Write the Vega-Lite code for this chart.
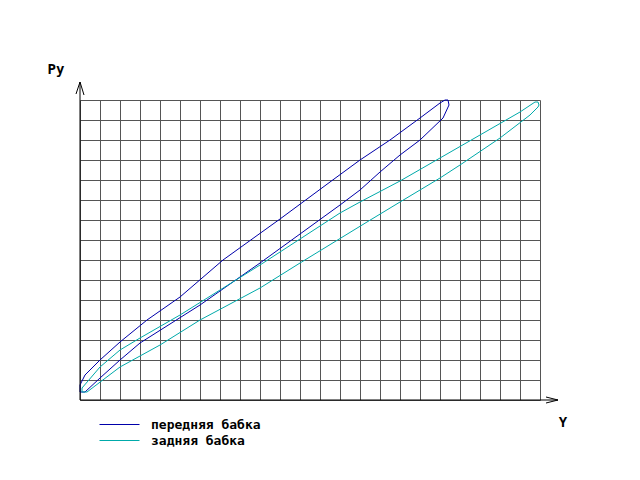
{
  "$schema": "https://vega.github.io/schema/vega-lite/v6.json",
  "width": 460,
  "height": 300,
  "autosize": {"type": "none"},
  "padding": {"left": 80, "top": 100, "right": 100, "bottom": 80},
  "background": "white",
  "config": {"view": {"stroke": null}},
  "layer": [
    {
      "data": {"values": [
        {"series": "передняя бабка", "ord": 1, "x": 0, "y": 0.4},
        {"series": "передняя бабка", "ord": 2, "x": 0, "y": 0.75},
        {"series": "передняя бабка", "ord": 3, "x": 0.25, "y": 1.25},
        {"series": "передняя бабка", "ord": 4, "x": 1, "y": 2},
        {"series": "передняя бабка", "ord": 5, "x": 2, "y": 2.9},
        {"series": "передняя бабка", "ord": 6, "x": 3.35, "y": 4},
        {"series": "передняя бабка", "ord": 7, "x": 5, "y": 5.15},
        {"series": "передняя бабка", "ord": 8, "x": 7.15, "y": 7},
        {"series": "передняя бабка", "ord": 9, "x": 10, "y": 9.05},
        {"series": "передняя бабка", "ord": 10, "x": 12.5, "y": 10.9},
        {"series": "передняя бабка", "ord": 11, "x": 14, "y": 12},
        {"series": "передняя бабка", "ord": 12, "x": 15.5, "y": 13},
        {"series": "передняя бабка", "ord": 13, "x": 17, "y": 14.1},
        {"series": "передняя бабка", "ord": 14, "x": 18, "y": 14.85},
        {"series": "передняя бабка", "ord": 15, "x": 18.25, "y": 15},
        {"series": "передняя бабка", "ord": 16, "x": 18.4, "y": 15},
        {"series": "передняя бабка", "ord": 17, "x": 18.45, "y": 14.75},
        {"series": "передняя бабка", "ord": 18, "x": 18.15, "y": 14.1},
        {"series": "передняя бабка", "ord": 19, "x": 17, "y": 13},
        {"series": "передняя бабка", "ord": 20, "x": 16, "y": 12.25},
        {"series": "передняя бабка", "ord": 21, "x": 15, "y": 11.4},
        {"series": "передняя бабка", "ord": 22, "x": 14, "y": 10.5},
        {"series": "передняя бабка", "ord": 23, "x": 13, "y": 9.75},
        {"series": "передняя бабка", "ord": 24, "x": 11, "y": 8.3},
        {"series": "передняя бабка", "ord": 25, "x": 9, "y": 6.85},
        {"series": "передняя бабка", "ord": 26, "x": 6, "y": 4.75},
        {"series": "передняя бабка", "ord": 27, "x": 3, "y": 2.85},
        {"series": "передняя бабка", "ord": 28, "x": 2, "y": 2},
        {"series": "передняя бабка", "ord": 29, "x": 1, "y": 1.1},
        {"series": "передняя бабка", "ord": 30, "x": 0.25, "y": 0.4},
        {"series": "передняя бабка", "ord": 31, "x": 0, "y": 0.4},
        {"series": "задняя бабка", "ord": 1, "x": 0.1, "y": 0.4},
        {"series": "задняя бабка", "ord": 2, "x": 0.1, "y": 0.6},
        {"series": "задняя бабка", "ord": 3, "x": 1, "y": 1.65},
        {"series": "задняя бабка", "ord": 4, "x": 2, "y": 2.5},
        {"series": "задняя бабка", "ord": 5, "x": 3, "y": 3.1},
        {"series": "задняя бабка", "ord": 6, "x": 5, "y": 4.25},
        {"series": "задняя бабка", "ord": 7, "x": 7, "y": 5.5},
        {"series": "задняя бабка", "ord": 8, "x": 9, "y": 6.75},
        {"series": "задняя бабка", "ord": 9, "x": 11, "y": 8.05},
        {"series": "задняя бабка", "ord": 10, "x": 13, "y": 9.35},
        {"series": "задняя бабка", "ord": 11, "x": 14, "y": 9.9},
        {"series": "задняя бабка", "ord": 12, "x": 16, "y": 10.95},
        {"series": "задняя бабка", "ord": 13, "x": 18, "y": 12.1},
        {"series": "задняя бабка", "ord": 14, "x": 20, "y": 13.25},
        {"series": "задняя бабка", "ord": 15, "x": 22, "y": 14.4},
        {"series": "задняя бабка", "ord": 16, "x": 22.75, "y": 14.9},
        {"series": "задняя бабка", "ord": 17, "x": 22.9, "y": 14.9},
        {"series": "задняя бабка", "ord": 18, "x": 22.95, "y": 14.75},
        {"series": "задняя бабка", "ord": 19, "x": 22.9, "y": 14.65},
        {"series": "задняя бабка", "ord": 20, "x": 22.5, "y": 14.25},
        {"series": "задняя бабка", "ord": 21, "x": 21, "y": 13.1},
        {"series": "задняя бабка", "ord": 22, "x": 19, "y": 11.75},
        {"series": "задняя бабка", "ord": 23, "x": 18, "y": 11.1},
        {"series": "задняя бабка", "ord": 24, "x": 16, "y": 9.9},
        {"series": "задняя бабка", "ord": 25, "x": 14.35, "y": 8.9},
        {"series": "задняя бабка", "ord": 26, "x": 11, "y": 6.85},
        {"series": "задняя бабка", "ord": 27, "x": 9, "y": 5.6},
        {"series": "задняя бабка", "ord": 28, "x": 6, "y": 4},
        {"series": "задняя бабка", "ord": 29, "x": 4, "y": 2.75},
        {"series": "задняя бабка", "ord": 30, "x": 2, "y": 1.65},
        {"series": "задняя бабка", "ord": 31, "x": 0.35, "y": 0.4},
        {"series": "задняя бабка", "ord": 32, "x": 0.1, "y": 0.4}
      ]},
      "mark": {"type": "line", "strokeWidth": 1, "interpolate": "linear"},
      "encoding": {
        "x": {"field": "x", "type": "quantitative",
              "scale": {"domain": [0, 23], "nice": false, "zero": false},
              "axis": {"values": [0,1,2,3,4,5,6,7,8,9,10,11,12,13,14,15,16,17,18,19,20,21,22,23],
                       "grid": true, "gridColor": "#555555", "gridOpacity": 1, "gridWidth": 1,
                       "domain": false, "ticks": false, "labels": false, "title": null}},
        "y": {"field": "y", "type": "quantitative",
              "scale": {"domain": [0, 15], "nice": false, "zero": false},
              "axis": {"values": [0,1,2,3,4,5,6,7,8,9,10,11,12,13,14,15],
                       "grid": true, "gridColor": "#555555", "gridOpacity": 1, "gridWidth": 1,
                       "domain": false, "ticks": false, "labels": false, "title": null}},
        "color": {"field": "series", "type": "nominal",
                  "scale": {"domain": ["передняя бабка", "задняя бабка"], "range": ["#0000aa", "#00aaaa"]},
                  "legend": {"title": null, "orient": "none", "legendX": 33, "legendY": 318,
                             "symbolType": "M-4,0H4", "symbolSize": 100, "symbolStrokeWidth": 1,
                             "labelFont": "DejaVu Sans Mono", "labelFontWeight": "bold", "labelFontSize": 13,
                             "labelColor": "black", "labelOffset": 25, "rowPadding": 2, "padding": 0}},
        "order": {"field": "ord", "type": "quantitative"}
      }
    },
    {
      "data": {"values": [
        {"x": 0, "y": 0, "x2": 23.9, "y2": 0},
        {"x": 0, "y": 0, "x2": 0, "y2": 15.9},
        {"x": 23.3, "y": 0.15, "x2": 23.9, "y2": 0},
        {"x": 23.3, "y": -0.15, "x2": 23.9, "y2": 0},
        {"x": -0.2, "y": 15.3, "x2": 0, "y2": 15.9},
        {"x": 0.2, "y": 15.25, "x2": 0, "y2": 15.9}
      ]},
      "mark": {"type": "rule", "color": "black", "strokeWidth": 1},
      "encoding": {
        "x": {"field": "x", "type": "quantitative",
              "axis": {"values": [0,1,2,3,4,5,6,7,8,9,10,11,12,13,14,15,16,17,18,19,20,21,22,23],
                       "grid": true, "gridColor": "#555555", "gridOpacity": 1, "gridWidth": 1,
                       "domain": false, "ticks": false, "labels": false, "title": null}},
        "y": {"field": "y", "type": "quantitative",
              "axis": {"values": [0,1,2,3,4,5,6,7,8,9,10,11,12,13,14,15],
                       "grid": true, "gridColor": "#555555", "gridOpacity": 1, "gridWidth": 1,
                       "domain": false, "ticks": false, "labels": false, "title": null}},
        "x2": {"field": "x2"},
        "y2": {"field": "y2"}
      }
    },
    {
      "data": {"values": [
        {"label": "Py", "x": -1.2, "y": 16.5},
        {"label": "Y", "x": 24.15, "y": -1.15}
      ]},
      "mark": {"type": "text", "font": "DejaVu Sans Mono", "fontWeight": "bold", "fontSize": 14, "color": "black"},
      "encoding": {
        "x": {"field": "x", "type": "quantitative",
              "axis": {"values": [0,1,2,3,4,5,6,7,8,9,10,11,12,13,14,15,16,17,18,19,20,21,22,23],
                       "grid": true, "gridColor": "#555555", "gridOpacity": 1, "gridWidth": 1,
                       "domain": false, "ticks": false, "labels": false, "title": null}},
        "y": {"field": "y", "type": "quantitative",
              "axis": {"values": [0,1,2,3,4,5,6,7,8,9,10,11,12,13,14,15],
                       "grid": true, "gridColor": "#555555", "gridOpacity": 1, "gridWidth": 1,
                       "domain": false, "ticks": false, "labels": false, "title": null}},
        "text": {"field": "label"}
      }
    }
  ]
}
